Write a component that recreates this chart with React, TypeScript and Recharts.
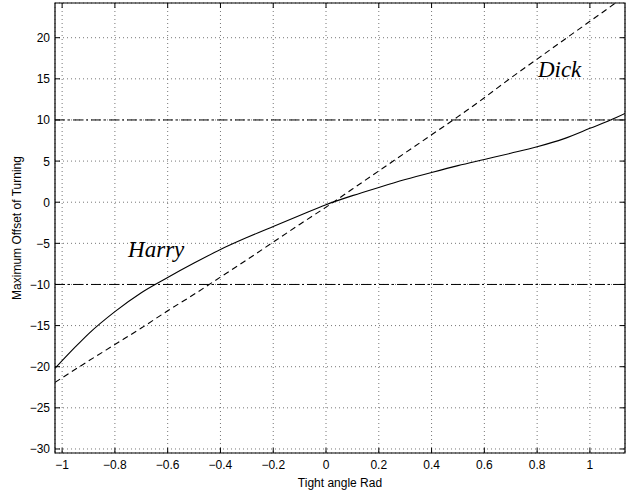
import React from 'react';
import {
  LineChart,
  Line,
  XAxis,
  YAxis,
  CartesianGrid,
  ReferenceLine,
  ReferenceArea,
  ReferenceDot,
} from 'recharts';

// ---- data ----
const harryX = [-1.027, -0.95, -0.9, -0.8, -0.7, -0.6, -0.5, -0.4, -0.3, -0.2, -0.1, 0, 0.1, 0.2, 0.3, 0.4, 0.5, 0.6, 0.7, 0.8, 0.9, 1.0, 1.1, 1.133];
const harryY = [-20.2, -17.6, -16.0, -13.3, -11.0, -9.15, -7.4, -5.75, -4.3, -2.95, -1.62, -0.3, 0.8, 1.8, 2.75, 3.62, 4.45, 5.2, 5.95, 6.74, 7.7, 8.98, 10.3, 10.8];

const dickX = [-1.027, -0.9, -0.8, -0.7, -0.6, -0.5, -0.4, -0.3, -0.2, -0.1, 0, 0.1, 0.2, 0.3, 0.4, 0.5, 0.6, 0.7, 0.8, 0.9, 1.0, 1.1, 1.133];
const dickY = [-21.9, -19.3, -17.3, -15.3, -13.2, -11.2, -9.1, -7.0, -4.85, -2.7, -0.6, 1.6, 3.8, 6.0, 8.2, 10.4, 12.7, 15.1, 17.4, 19.7, 22.0, 24.3, 25.1];

const levelLines = [10, -10];

const xTicks = [-1, -0.8, -0.6, -0.4, -0.2, 0, 0.2, 0.4, 0.6, 0.8, 1];
const yTicks = [-30, -25, -20, -15, -10, -5, 0, 5, 10, 15, 20];

const XMIN = -1.027;
const XMAX = 1.133;
const YMIN = -30.49;
const YMAX = 24.22;

const curveLabels = [
  { text: 'Harry', x: -0.75, y: -6.7 },
  { text: 'Dick', x: 0.803, y: 15.2 },
];

const xTitle = 'Tight angle Rad';
const yTitle = 'Maximum Offset of Turning';

// ---- layout ----
const W = 631;
const H = 491;
const Y_AXIS_W = 55;
const X_AXIS_H = 38;
const MARGIN = { top: 3, right: 6, left: 0, bottom: 0 };
const PT = MARGIN.top;
const PB = H - MARGIN.bottom - X_AXIS_H;
const PL = MARGIN.left + Y_AXIS_W;
const PR = W - MARGIN.right;

const SANS = '"Liberation Sans", Arial, Helvetica, sans-serif';
const SERIF = '"Liberation Serif", "Times New Roman", Times, serif';

const fmt = (v: number) => (v < 0 ? '\u2212' + String(Math.abs(v)) : String(v));

const harryData = harryX.map((x, i) => ({ x, y: harryY[i] }));
const dickData = dickX.map((x, i) => ({ x, y: dickY[i] }));

const XTick = (p: any) => {
  const v = p.payload.value;
  return (
    <g>
      <line x1={p.x} x2={p.x} y1={PB} y2={PB - 5} stroke="#000" />
      <line x1={p.x} x2={p.x} y1={PT} y2={PT + 5} stroke="#000" />
      <text x={p.x} y={PB + 15.5} textAnchor="middle" fontSize={12} fontFamily={SANS} fill="#000">
        {fmt(v)}
      </text>
    </g>
  );
};

const YTick = (p: any) => {
  const v = p.payload.value;
  return (
    <g>
      <line x1={PL} x2={PL + 5} y1={p.y} y2={p.y} stroke="#000" />
      <line x1={PR} x2={PR - 5} y1={p.y} y2={p.y} stroke="#000" />
      <text x={PL - 5} y={p.y + 4.5} textAnchor="end" fontSize={12} fontFamily={SANS} fill="#000">
        {fmt(v)}
      </text>
    </g>
  );
};

const XTitle = (p: any) => {
  const vb = p.viewBox || { x: PL, y: PB, width: PR - PL, height: X_AXIS_H };
  return (
    <text x={vb.x + vb.width / 2} y={vb.y + 34} textAnchor="middle" fontSize={12} fontFamily={SANS} fill="#000">
      {xTitle}
    </text>
  );
};

const YTitle = (p: any) => {
  const vb = p.viewBox || { x: 0, y: PT, width: Y_AXIS_W, height: PB - PT };
  const cx = vb.x + 21;
  const cy = vb.y + vb.height / 2;
  return (
    <text
      x={cx}
      y={cy}
      transform={`rotate(-90 ${cx} ${cy})`}
      textAnchor="middle"
      fontSize={12}
      fontFamily={SANS}
      fill="#000"
    >
      {yTitle}
    </text>
  );
};

const makeCurveLabel = (text: string) => (p: any) => {
  const vb = p.viewBox || { x: 0, y: 0, width: 0, height: 0 };
  return (
    <text
      x={vb.x + vb.width / 2}
      y={vb.y + vb.height / 2}
      fontSize={23}
      fontStyle="italic"
      fontFamily={SERIF}
      fill="#000"
    >
      {text}
    </text>
  );
};

export default function App() {
  return (
    <div style={{ position: 'absolute', left: 0, top: 0, width: W, height: H, background: '#fff' }}>
      <LineChart width={W} height={H} margin={MARGIN}>
        <CartesianGrid stroke="#777" strokeDasharray="1 3" />
        <XAxis
          dataKey="x"
          type="number"
          domain={[XMIN, XMAX]}
          ticks={xTicks}
          interval={0}
          allowDataOverflow
          height={X_AXIS_H}
          axisLine={false}
          tickLine={false}
          tick={<XTick />}
          label={<XTitle />}
        />
        <YAxis
          type="number"
          domain={[YMIN, YMAX]}
          ticks={yTicks}
          interval={0}
          allowDataOverflow
          width={Y_AXIS_W}
          axisLine={false}
          tickLine={false}
          tick={<YTick />}
          label={<YTitle />}
        />
        {levelLines.map((v) => (
          <ReferenceLine key={v} y={v} stroke="#000" strokeWidth={1} strokeDasharray="10 3 2 3" />
        ))}
        <Line
          data={harryData}
          dataKey="y"
          type="monotone"
          stroke="#000"
          strokeWidth={1.1}
          dot={false}
          activeDot={false}
          isAnimationActive={false}
        />
        <Line
          data={dickData}
          dataKey="y"
          type="monotone"
          stroke="#000"
          strokeWidth={1.1}
          strokeDasharray="6 4"
          dot={false}
          activeDot={false}
          isAnimationActive={false}
        />
        <ReferenceArea
          x1={XMIN}
          x2={XMAX}
          y1={YMIN}
          y2={YMAX}
          fill="none"
          fillOpacity={0}
          stroke="#000"
          strokeWidth={1.2}
          ifOverflow="visible"
        />
        {curveLabels.map((l) => (
          <ReferenceDot
            key={l.text}
            x={l.x}
            y={l.y}
            r={1}
            fill="none"
            stroke="none"
            label={makeCurveLabel(l.text)}
          />
        ))}
      </LineChart>
    </div>
  );
}
